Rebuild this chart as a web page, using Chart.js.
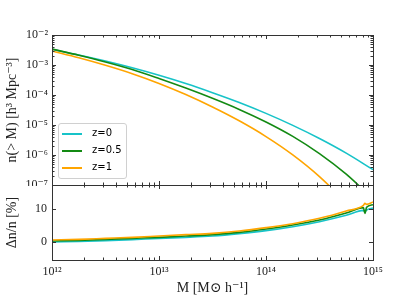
<!DOCTYPE html>
<html>
<head>
<meta charset="utf-8">
<script src="https://cdn.jsdelivr.net/npm/chart.js@4.4.1/dist/chart.umd.min.js"></script>
<style>
  body { margin: 0; background: #fff; }
  #wrap { position: relative; width: 415px; height: 297px; }
  #topBox { position: absolute; left: 0; top: 0; width: 415px; height: 186px; }
  #botBox { position: absolute; left: 0; top: 184px; width: 415px; height: 113px; }
  #legend {
    position: absolute; left: 58px; top: 123px; width: 67px; height: 54px;
    border: 1px solid #d0d0d0; border-radius: 3px; background: rgba(255,255,255,0.8);
    font: 10px "DejaVu Sans", sans-serif; color: #000;
  }
  .row { position: absolute; left: 3px; height: 12px; }
  .row span.ln { position: absolute; left: 0; top: 5px; width: 20px; height: 2px; }
  .row span.tx { position: absolute; left: 30px; top: -1px; white-space: nowrap; }
</style>
</head>
<body>
<div id="wrap">
  <div id="topBox"><canvas id="topChart"></canvas></div>
  <div id="botBox"><canvas id="botChart"></canvas></div>
  <div id="legend"></div>
</div>
<script>
// redshift labels and colours
const labels = ['z=0', 'z=0.5', 'z=1'];
const colors = ['#17c3c8', '#138a13', '#ffa500'];

// cumulative mass function n(>M)
const masses = [1e12, 1.78e12, 3.16e12, 5.62e12, 1e13, 1.78e13, 3.16e13, 5.62e13, 1e14, 1.78e14, 3.16e14, 5.62e14, 1e15];
const nZ0  = [3.31e-3, 2.16e-3, 1.35e-3, 8.04e-4, 4.52e-4, 2.40e-4, 1.19e-4, 5.62e-5, 2.44e-5, 9.72e-6, 3.55e-6, 1.155e-6, 3.25e-7];
const nZ05 = [3.39e-3, 2.11e-3, 1.26e-3, 7.08e-4, 3.55e-4, 1.70e-4, 7.76e-5, 3.31e-5, 1.26e-5, 4.17e-6, 1.11e-6, 2.29e-7, 3.43e-8];
const nZ1  = [2.92e-3, 1.74e-3, 9.77e-4, 5.13e-4, 2.43e-4, 1.035e-4, 3.98e-5, 1.38e-5, 4.12e-6, 1.01e-6, 1.905e-7, 2.51e-8, 2.5e-9];

// relative difference in percent
const massRatio = [1e12, 1.78e12, 3.16e12, 5.62e12, 1e13, 1.78e13, 3.16e13, 5.62e13, 1e14, 1.78e14, 3.16e14, 5.62e14, 8.13e14, 8.41e14, 8.71e14, 1e15];
const dZ0  = [0.0, 0.2, 0.4, 0.7, 1.1, 1.4, 1.8, 2.5, 3.4, 4.6, 6.1, 8.0, 9.5, 9.0, 9.6, 10.2];
const dZ05 = [0.3, 0.5, 0.8, 1.1, 1.4, 1.8, 2.2, 2.9, 3.9, 5.1, 6.6, 8.7, 10.3, 8.6, 10.4, 11.2];
const dZ1  = [0.6, 0.8, 1.1, 1.4, 1.8, 2.2, 2.6, 3.3, 4.3, 5.5, 7.1, 9.3, 11.0, 11.6, 11.3, 12.0];

// tick labels
const xTicks = [1e12, 1e13, 1e14, 1e15];
const xTickLabels = ['10¹²', '10¹³', '10¹⁴', '10¹⁵'];
const yTopTicks = [1e-7, 1e-6, 1e-5, 1e-4, 1e-3, 1e-2];
const yTopLabels = ['10⁻⁷', '10⁻⁶', '10⁻⁵', '10⁻⁴', '10⁻³', '10⁻²'];
const yBotTicks = [0, 10];

const serif = '"Liberation Serif", "DejaVu Serif", serif';
const axisColor = '#333';

function minorLog(lo, hi) {
  const out = [];
  for (let d = lo; d < hi; d++) {
    for (let m = 2; m <= 9; m++) out.push(m * Math.pow(10, d));
  }
  return out;
}
const xMinor = minorLog(12, 15);
const yTopMinor = minorLog(-7, -2);

function pts(xs, ys) {
  return xs.map((x, i) => ({ x: x, y: ys[i] }));
}

function makeSets(xs, series) {
  return series.map((ys, i) => ({
    label: labels[i],
    data: pts(xs, ys),
    borderColor: colors[i],
    borderWidth: 1.6,
    pointRadius: 0,
    fill: false,
    cubicInterpolationMode: 'monotone',
    order: 2 - i
  }));
}

// keep chart area fixed: no extra room for edge labels
function noPadY(width) {
  return s => { s.width = width; s.paddingTop = 0; s.paddingBottom = 0; };
}

// frame + inward ticks like matplotlib
const frameTicks = {
  id: 'frameTicks',
  afterDraw(chart, args, opts) {
    const { ctx, chartArea: a, scales } = chart;
    ctx.save();
    ctx.strokeStyle = axisColor;
    ctx.lineWidth = 1;
    ctx.beginPath();
    const seg = (x1, y1, x2, y2) => { ctx.moveTo(x1, y1); ctx.lineTo(x2, y2); };
    opts.xMajor.forEach(v => {
      const p = Math.round(scales.x.getPixelForValue(v)) + 0.5;
      seg(p, a.bottom, p, a.bottom - 4); seg(p, a.top, p, a.top + 4);
    });
    opts.xMinor.forEach(v => {
      const p = Math.round(scales.x.getPixelForValue(v)) + 0.5;
      seg(p, a.bottom, p, a.bottom - 2.5); seg(p, a.top, p, a.top + 2.5);
    });
    opts.yMajor.forEach(v => {
      const p = Math.round(scales.y.getPixelForValue(v)) + 0.5;
      seg(a.left, p, a.left + 4, p); seg(a.right, p, a.right - 4, p);
    });
    (opts.yMinor || []).forEach(v => {
      const p = Math.round(scales.y.getPixelForValue(v)) + 0.5;
      seg(a.left, p, a.left + 2.5, p); seg(a.right, p, a.right - 2.5, p);
    });
    ctx.stroke();
    ctx.strokeRect(Math.round(a.left) + 0.5, Math.round(a.top) + 0.5,
      Math.round(a.right - a.left), Math.round(a.bottom - a.top));
    ctx.restore();
  }
};

Chart.defaults.animation = false;

new Chart(document.getElementById('topChart'), {
  type: 'line',
  data: { datasets: makeSets(masses, [nZ0, nZ05, nZ1]) },
  plugins: [frameTicks],
  options: {
    responsive: true,
    maintainAspectRatio: false,
    layout: { padding: { left: 0, right: 42, top: 35, bottom: 1 } },
    plugins: {
      legend: { display: false },
      tooltip: { enabled: false },
      frameTicks: { xMajor: xTicks, xMinor: xMinor, yMajor: yTopTicks, yMinor: yTopMinor }
    },
    scales: {
      x: { type: 'logarithmic', min: 1e12, max: 1e15, display: false },
      y: {
        type: 'logarithmic', min: 1e-7, max: 1e-2,
        afterBuildTicks: s => { s.ticks = yTopTicks.map(v => ({ value: v })); },
        afterFit: noPadY(52),
        grid: { display: false, drawTicks: false },
        border: { display: false },
        ticks: {
          padding: 4, color: '#222', font: { family: serif, size: 12 },
          callback: (v) => yTopLabels[yTopTicks.indexOf(v)]
        },
        title: {
          display: true, text: 'n(> M) [h³ Mpc⁻³]', color: '#222',
          font: { family: serif, size: 14 }, padding: { top: 4, bottom: 0 }
        }
      }
    }
  }
});

new Chart(document.getElementById('botChart'), {
  type: 'line',
  data: { datasets: makeSets(massRatio, [dZ0, dZ05, dZ1]) },
  plugins: [frameTicks],
  options: {
    responsive: true,
    maintainAspectRatio: false,
    layout: { padding: { left: 0, right: 42, top: 1, bottom: 0 } },
    plugins: {
      legend: { display: false },
      tooltip: { enabled: false },
      frameTicks: { xMajor: xTicks, xMinor: xMinor, yMajor: yBotTicks }
    },
    scales: {
      x: {
        type: 'logarithmic', min: 1e12, max: 1e15,
        afterBuildTicks: s => { s.ticks = xTicks.map(v => ({ value: v })); },
        afterFit: s => { s.height = 37; s.paddingLeft = 0; s.paddingRight = 0; },
        grid: { display: false, drawTicks: false },
        border: { display: false },
        ticks: {
          padding: 5, maxRotation: 0, autoSkip: false, color: '#222',
          font: { family: serif, size: 12 },
          callback: (v) => xTickLabels[xTicks.indexOf(v)]
        },
        title: {
          display: true, text: 'M [M⊙ h⁻¹]', color: '#222',
          font: { family: serif, size: 14 }, padding: { top: 0, bottom: 0 }
        }
      },
      y: {
        type: 'linear', min: -5.4, max: 17.1,
        afterBuildTicks: s => { s.ticks = yBotTicks.map(v => ({ value: v })); },
        afterFit: noPadY(52),
        grid: { display: false, drawTicks: false },
        border: { display: false },
        ticks: { padding: 5, color: '#222', font: { family: serif, size: 12 } },
        title: {
          display: true, text: 'Δn/n [%]', color: '#222',
          font: { family: serif, size: 14 }, padding: { top: 4, bottom: 0 }
        }
      }
    }
  }
});

// legend inside the upper panel
const legendBox = document.getElementById('legend');
labels.forEach((lab, i) => {
  const row = document.createElement('div');
  row.className = 'row';
  row.style.top = (4 + i * 17) + 'px';
  row.innerHTML = '<span class="ln" style="background:' + colors[i] + '"></span><span class="tx">' + lab + '</span>';
  legendBox.appendChild(row);
});
</script>
</body>
</html>
